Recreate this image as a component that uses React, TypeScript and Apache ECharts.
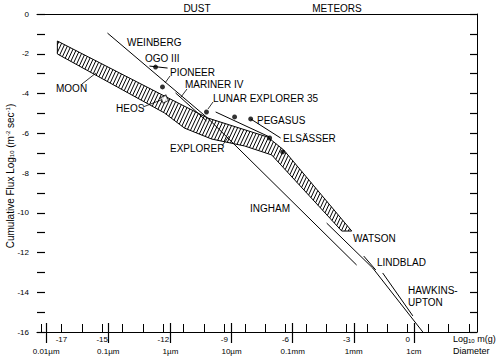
import React, { useEffect, useRef } from "react";
import * as echarts from "echarts";

const FONT = "'Liberation Sans', Arial, Helvetica, sans-serif";

// ---- axes ----
const massTicks = [-18, -17, -16, -15, -14, -13, -12, -11, -10, -9, -8, -7, -6, -5, -4, -3, -2, -1, 0, 1, 2, 3];
const massLabels = [-17, -15, -12, -9, -6, -3, 0];
const diameterTicks = [-17.75, -14.7, -11.65, -8.65, -5.65, -2.65, 0.3];
const diameterLabels = ["0.01µm", "0.1µm", "1µm", "10µm", "0.1mm", "1mm", "1cm"];
const fluxTicks = [-16, -15, -14, -13, -12, -11, -10, -9, -8, -7, -6, -5, -4, -3, -2, -1, 0];
const fluxLabels = [-16, -14, -12, -10, -8, -6, -4, -2, 0];

// ---- hatched band (MOON ... ) ----
const bandUpper: [number, number][] = [
  [-17.2, -1.36], [-11.94, -4.13], [-9.83, -5.23], [-6.88, -6.19], [-6.09, -6.84], [-2.75, -10.92],
];
const bandLower: [number, number][] = [
  [-17.2, -2.01], [-11.94, -4.98], [-10.96, -5.74], [-9.63, -6.29], [-8.01, -6.64], [-6.68, -7.09], [-3.24, -10.92],
];

// ---- measurement lines ----
const weinberg: [number, number][] = [[-14.74, -0.96], [-9.83, -5.23]];
const marinerIV: [number, number][] = [[-11.4, -3.97], [-9.88, -5.38]];
const ingham: [number, number][] = [[-9.83, -5.23], [-2.51, -12.63]];
const watson: [number, number][] = [[-3.98, -10.52], [-1.72, -12.78], [0.74, -16.0]];
const lindblad: [number, number][] = [[-2.16, -12.18], [-1.57, -12.88]];
const hawkinsUpton: [number, number][] = [[-1.23, -13.03], [0.25, -15.19]];
const ogo3: [number, number][] = [[-12.68, -2.62], [-11.79, -2.72]];
const lunarExplorer35: [number, number][] = [[-9.43, -4.93], [-6.78, -6.19]];
const pegasus: [number, number][] = [[-7.71, -5.28], [-6.24, -6.24]];
const dots: [number, number][] = [
  [-12.38, -2.67], [-12.04, -3.67], [-9.88, -4.93], [-8.5, -5.18], [-7.71, -5.28], [-6.78, -6.24], [-6.14, -6.94],
];
const heos: [number, number][] = [[-11.94, -4.28]];

// ---- labels (pixel layout) ----
const labels: [string, number, number][] = [
  ["WEINBERG", 127, 42],
  ["OGO III", 145, 58],
  ["PIONEER", 170, 72],
  ["MARINER IV", 185, 84],
  ["LUNAR EXPLORER 35", 213, 98],
  ["PEGASUS", 257, 120],
  ["ELSÄSSER", 283, 138],
  ["MOON", 56, 88],
  ["HEOS", 116, 108],
  ["EXPLORER", 170, 148],
  ["INGHAM", 250, 208],
  ["WATSON", 353, 238],
  ["LINDBLAD", 377, 262],
  ["HAWKINS-", 408, 290],
  ["UPTON", 408, 302],
];
const leaders: [number, number, number, number][] = [
  [82, 84, 96, 73],
  [165, 83, 170, 76],
  [187, 89, 181, 97],
  [208, 109, 213, 102],
  [143, 107, 161, 100],
  [222, 146, 229, 136],
];

function hatchPolygon(poly: number[][], angleDeg: number, spacing: number) {
  const a = (angleDeg * Math.PI) / 180;
  const d = [Math.cos(a), -Math.sin(a)];
  const n = [Math.sin(a), Math.cos(a)];
  const proj = poly.map((p) => p[0] * n[0] + p[1] * n[1]);
  const lo = Math.min(...proj);
  const hi = Math.max(...proj);
  const segs: number[][] = [];
  for (let c = lo + spacing / 2; c < hi; c += spacing) {
    const pts: number[][] = [];
    for (let i = 0; i < poly.length; i++) {
      const p = poly[i];
      const q = poly[(i + 1) % poly.length];
      const np = proj[i] - c;
      const nq = proj[(i + 1) % poly.length] - c;
      if ((np < 0 && nq >= 0) || (nq < 0 && np >= 0)) {
        const t = np / (np - nq);
        pts.push([p[0] + t * (q[0] - p[0]), p[1] + t * (q[1] - p[1])]);
      }
    }
    pts.sort((u, v) => u[0] * d[0] + u[1] * d[1] - (v[0] * d[0] + v[1] * d[1]));
    for (let k = 0; k + 1 < pts.length; k += 2) {
      segs.push([pts[k][0], pts[k][1], pts[k + 1][0], pts[k + 1][1]]);
    }
  }
  return segs;
}

const lineSeries = (data: [number, number][]) => ({
  type: "line",
  data,
  symbol: "none",
  silent: true,
  lineStyle: { color: "#000", width: 1 },
  z: 3,
});

export default function App() {
  const ref = useRef<HTMLDivElement>(null);
  useEffect(() => {
    if (!ref.current) return;
    const chart = echarts.init(ref.current, null, { renderer: "svg" });
    const bandPoly = [...bandUpper, ...[...bandLower].reverse()];
    const xCommon = { type: "value", min: -18.2, max: 3.4, splitLine: { show: false } };
    const option: any = {
      animation: false,
      backgroundColor: "#fff",
      grid: { left: 37, right: 23, top: 14, bottom: 27, containLabel: false, outerBoundsMode: "none" },
      xAxis: [
        {
          ...xCommon,
          position: "bottom",
          offset: 0,
          axisLine: { show: true, onZero: false, lineStyle: { color: "#000", width: 1.2 } },
          axisTick: { show: true, inside: true, length: 8, customValues: massTicks, lineStyle: { color: "#000", width: 1 } },
          axisLabel: {
            customValues: massLabels,
            margin: 3,
            fontSize: 8,
            color: "#000",
            fontFamily: FONT,
            formatter: (v: number) => String(v),
          },
        },
        {
          ...xCommon,
          position: "bottom",
          offset: 0,
          axisLine: { show: false, onZero: false },
          axisTick: { show: true, inside: false, length: 11, customValues: diameterTicks, lineStyle: { color: "#000", width: 1.2 } },
          axisLabel: {
            customValues: diameterTicks,
            margin: 15,
            fontSize: 8,
            color: "#000",
            fontFamily: FONT,
            formatter: (v: number) => {
              let best = 0;
              diameterTicks.forEach((t, i) => {
                if (Math.abs(t - v) < Math.abs(diameterTicks[best] - v)) best = i;
              });
              return diameterLabels[best];
            },
          },
        },
        {
          ...xCommon,
          position: "bottom",
          offset: 0,
          axisLine: { show: false, onZero: false },
          axisTick: { show: true, inside: true, length: 9, customValues: diameterTicks, lineStyle: { color: "#000", width: 1.2 } },
          axisLabel: { show: false },
        },
        {
          ...xCommon,
          position: "top",
          offset: 0,
          axisLine: { show: true, onZero: false, lineStyle: { color: "#000", width: 1 } },
          axisTick: { show: false },
          axisLabel: { show: false },
        },
      ],
      yAxis: [
        {
          type: "value",
          min: -16,
          max: 0,
          position: "left",
          offset: 0,
          splitLine: { show: false },
          axisLine: { show: false, onZero: false },
          axisTick: { show: true, inside: true, length: 8, customValues: fluxTicks, lineStyle: { color: "#000", width: 1.2 } },
          axisLabel: {
            customValues: fluxLabels,
            margin: 8,
            fontSize: 8,
            color: "#000",
            fontFamily: FONT,
            formatter: (v: number) => String(v),
          },
        },
        {
          type: "value",
          min: -16,
          max: 0,
          position: "right",
          offset: 0,
          splitLine: { show: false },
          axisLine: { show: true, onZero: false, lineStyle: { color: "#000", width: 1 } },
          axisTick: { show: true, inside: true, length: 7, customValues: fluxTicks, lineStyle: { color: "#000", width: 1.2 } },
          axisLabel: { show: false },
        },
      ],
      series: [
        {
          type: "custom",
          silent: true,
          data: [[0, 0]],
          z: 2,
          renderItem: (_params: any, api: any) => {
            const poly = bandPoly.map((p) => api.coord(p));
            const segs = hatchPolygon(poly, 65, 3.2);
            const children: any[] = segs.map((s) => ({
              type: "line",
              shape: { x1: s[0], y1: s[1], x2: s[2], y2: s[3] },
              style: { stroke: "#000", lineWidth: 1 },
            }));
            children.push({
              type: "polygon",
              shape: { points: poly },
              style: { fill: "none", stroke: "#000", lineWidth: 1 },
            });
            return { type: "group", children };
          },
        },
        lineSeries(weinberg),
        lineSeries(marinerIV),
        lineSeries(ingham),
        lineSeries(watson),
        lineSeries(lindblad),
        lineSeries(hawkinsUpton),
        lineSeries(ogo3),
        lineSeries(lunarExplorer35),
        lineSeries(pegasus),
        {
          type: "scatter",
          data: dots,
          symbol: "circle",
          symbolSize: 5,
          silent: true,
          itemStyle: { color: "#000" },
          z: 4,
        },
        {
          type: "scatter",
          data: heos,
          symbol: "rect",
          symbolSize: 6,
          symbolRotate: 27,
          silent: true,
          itemStyle: { color: "#fff", borderColor: "#000", borderWidth: 1 },
          z: 4,
        },
      ],
      graphic: [
        ...labels.map(([t, x, y]) => ({
          type: "text",
          x,
          y,
          silent: true,
          style: { text: t, fontSize: 10, fontFamily: FONT, fill: "#000", textAlign: "left", textVerticalAlign: "middle" },
          z: 10,
        })),
        ...leaders.map(([x1, y1, x2, y2]) => ({
          type: "line",
          silent: true,
          shape: { x1, y1, x2, y2 },
          style: { stroke: "#000", lineWidth: 0.8 },
          z: 10,
        })),
        {
          type: "text",
          x: 10,
          y: 176,
          rotation: Math.PI / 2,
          silent: true,
          style: {
            text: "Cumulative Flux Log{s|10} (m{p|-2} sec{p|-1})",
            fontSize: 10,
            fontFamily: FONT,
            fill: "#000",
            textAlign: "center",
            textVerticalAlign: "middle",
            rich: {
              s: { fontSize: 6, fontFamily: FONT, fill: "#000", padding: [4, 0, 0, 0] },
              p: { fontSize: 6, fontFamily: FONT, fill: "#000", padding: [0, 0, 4, 0] },
            },
          },
        },
        {
          type: "text",
          x: 197,
          y: 8,
          style: { text: "DUST", fontSize: 10, fontFamily: FONT, fill: "#000", textAlign: "center", textVerticalAlign: "middle" },
        },
        {
          type: "text",
          x: 337,
          y: 8,
          style: { text: "METEORS", fontSize: 10, fontFamily: FONT, fill: "#000", textAlign: "center", textVerticalAlign: "middle" },
        },
        {
          type: "text",
          x: 453,
          y: 339,
          style: {
            text: "Log{s|10} m(g)",
            fontSize: 9,
            fontFamily: FONT,
            fill: "#000",
            textAlign: "left",
            textVerticalAlign: "middle",
            rich: { s: { fontSize: 6, fontFamily: FONT, fill: "#000", padding: [4, 0, 0, 0] } },
          },
        },
        {
          type: "text",
          x: 453,
          y: 351,
          style: { text: "Diameter", fontSize: 9, fontFamily: FONT, fill: "#000", textAlign: "left", textVerticalAlign: "middle" },
        },
      ],
    };
    chart.setOption(option);
    return () => chart.dispose();
  }, []);
  return <div ref={ref} style={{ position: "fixed", left: 0, top: 0, width: 500, height: 359 }} />;
}
